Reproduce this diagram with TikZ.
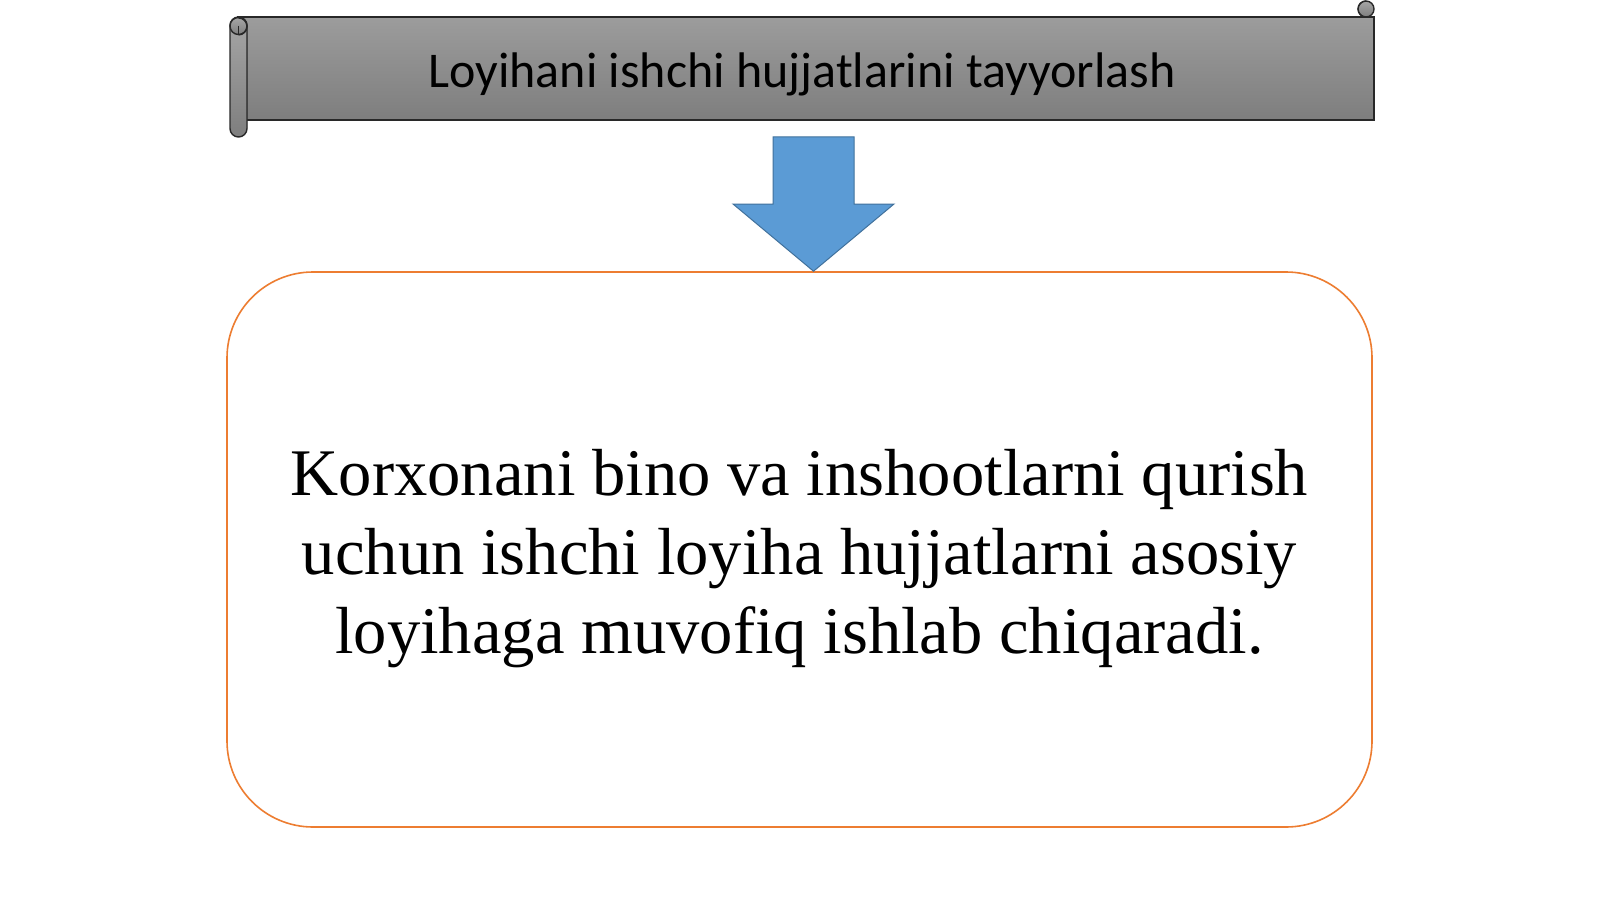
\documentclass[tikz,border=0pt]{standalone}
\usepackage{fontspec}
\setmainfont{Liberation Serif}
\newfontfamily\titlefont{Carlito}
\definecolor{bantop}{RGB}{156,156,156}
\definecolor{banbot}{RGB}{126,126,126}
\definecolor{banline}{RGB}{40,40,40}
\definecolor{arrfill}{RGB}{91,155,213}
\definecolor{arrline}{RGB}{65,113,156}
\definecolor{boxline}{RGB}{237,125,49}
\tikzset{
  banner/.style={rectangle, inner sep=0pt, minimum width=568pt, minimum height=51.5pt,
    top color=bantop, bottom color=banbot, draw=banline, line width=0.7pt},
  roll/.style={top color=bantop!90!white, bottom color=banbot, draw=banline, line width=0.7pt},
  curl/.style={draw=banline, line width=0.6pt},
  bigarrow/.style={fill=arrfill, draw=arrline, line width=0.5pt},
  textbox/.style={rectangle, rounded corners=43pt, draw=boxline, line width=0.8pt, fill=white,
    minimum width=572.5pt, minimum height=277.5pt, inner sep=0pt},
  titletext/.style={anchor=base, inner sep=0pt, font=\titlefont\fontsize{25}{29}\selectfont},
  bodytext/.style={align=center, inner sep=0pt, font=\fontsize{33.3}{39.5}\selectfont}
}
\begin{document}
\begin{tikzpicture}[x=0.5pt,y=-0.5pt]
\useasboundingbox (0,0) rectangle (1600,899);
\fill[white] (0,0) rectangle (1600,899);
% banner
\node[banner] (banner) at (806,68.5) {};
% right top curl
\filldraw[roll] (1366,9) circle (4pt);
\draw[curl] (1366,1) arc[start angle=90, end angle=270, radius=4pt];
\draw[curl] (1358,17) -- (1374,17);
% left roll
\filldraw[roll, rounded corners=4.25pt] (230,17) rectangle (247,137);
\filldraw[roll] (238.5,26) circle (4.25pt);
\draw[curl] (238.5,18) arc[start angle=90, end angle=-90, radius=4.25pt];
\draw[curl] (238.5,26) -- (238.5,34);
\node[titletext] (title) at (802,88) {Loyihani ishchi hujjatlarini tayyorlash};
% box
\node[textbox] (box) at (799.5,549.5) {};
\node[bodytext] (body) at (box.center) [yshift=-4.75pt] {Korxonani bino va inshootlarni qurish\\uchun ishchi loyiha hujjatlarni asosiy\\loyihaga muvofiq ishlab chiqaradi.};
% arrow
\coordinate (atop) at (813.5,137);
\filldraw[bigarrow] (773,137) -- (854,137) -- (854,204) -- (894,204) -- (box.north -| atop) -- (733,204) -- (773,204) -- cycle;
\end{tikzpicture}
\end{document}
